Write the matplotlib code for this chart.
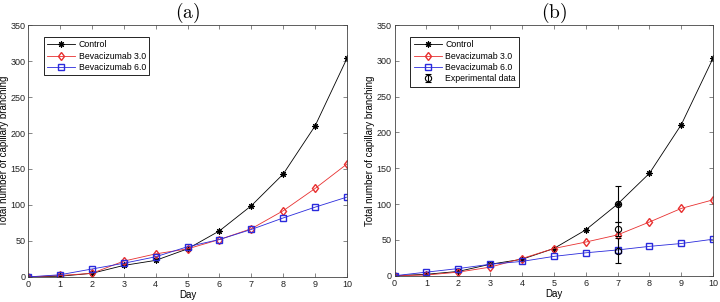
import numpy as np
import matplotlib
matplotlib.use("Agg")
import matplotlib.pyplot as plt

plt.rcParams['font.family'] = ['Liberation Sans', 'DejaVu Sans']
plt.rcParams['mathtext.fontset'] = 'cm'

days = list(range(11))

# panel (a)
ctrl_a = [0, 1, 5, 16, 23, 39, 64, 99, 143, 210, 304]
bev3_a = [0, 2, 5, 22, 32, 39, 52, 67, 92, 123, 157]
bev6_a = [0, 3, 11, 19, 28, 42, 52, 66, 82, 97, 111]

# panel (b)
ctrl_b = [0, 2, 6, 16, 23, 38, 64, 100, 143, 211, 304]
bev3_b = [0, 1, 5, 12, 24, 38, 47, 57, 75, 94, 106]
bev6_b = [0, 5, 10, 16, 20, 27, 32, 36, 41, 45, 51]

# experimental data at day 7
exp_day = [7, 7, 7]
exp_val = [100, 65, 35]
exp_err = [25, 10, 17]

fig = plt.figure(figsize=(7.2, 3.02), dpi=100)
ax1 = fig.add_axes([0.039, 0.083, 0.443, 0.834])
ax2 = fig.add_axes([0.548, 0.087, 0.4425, 0.830])

lw = 0.6
ms = 4.5
star = (8, 2, 0)  # matlab style asterisk


def style(ax, title):
    ax.set_xlim(0, 10)
    ax.set_ylim(0, 350)
    ax.set_xticks(range(11))
    ax.set_yticks(range(0, 351, 50))
    ax.tick_params(direction='in', top=True, right=True, labelsize=6.5, length=3,
                   width=0.5, pad=2, color='#555555', labelcolor='#222222')
    for s in ax.spines.values():
        s.set_linewidth(0.6)
        s.set_color('#444444')
    ax.set_xlabel('Day', fontsize=7, labelpad=1)
    ax.set_ylabel('Total number of capillary branching', fontsize=7, labelpad=1)
    ax.set_title(r'$\mathrm{(%s)}$' % title, fontsize=14, pad=5)


ax1.plot(days, ctrl_a, color='k', marker=star, ms=ms, lw=lw, mew=0.8, label='Control')
ax1.plot(days, bev3_a, color='#e83030', marker='d', ms=ms, lw=lw, mfc='none',
         label='Bevacizumab 3.0')
ax1.plot(days, bev6_a, color='#2a2adc', marker='s', ms=ms - 0.5, lw=lw, mfc='none',
         label='Bevacizumab 6.0')
style(ax1, 'a')
leg = ax1.legend(loc='upper left', bbox_to_anchor=(0.035, 0.97), fontsize=6.3,
                 fancybox=False, edgecolor='k', framealpha=1, handlelength=3.2,
                 borderpad=0.4, labelspacing=0.25, handletextpad=0.4)
leg.get_frame().set_linewidth(0.6)

ax2.plot(days, ctrl_b, color='k', marker=star, ms=ms, lw=lw, mew=0.8, label='Control')
ax2.plot(days, bev3_b, color='#e83030', marker='d', ms=ms, lw=lw, mfc='none',
         label='Bevacizumab 3.0')
ax2.plot(days, bev6_b, color='#2a2adc', marker='s', ms=ms - 0.5, lw=lw, mfc='none',
         label='Bevacizumab 6.0')
ax2.errorbar(exp_day, exp_val, yerr=exp_err, fmt='o', color='k', mfc='none',
             ms=ms, mew=0.8, elinewidth=0.8, capsize=2.5, capthick=0.8,
             label='Experimental data')
style(ax2, 'b')
leg = ax2.legend(loc='upper left', bbox_to_anchor=(0.035, 0.97), fontsize=6.3,
                 fancybox=False, edgecolor='k', framealpha=1, handlelength=3.2,
                 borderpad=0.4, labelspacing=0.25, handletextpad=0.4)
leg.get_frame().set_linewidth(0.6)

fig.savefig('out.png', dpi=100)
